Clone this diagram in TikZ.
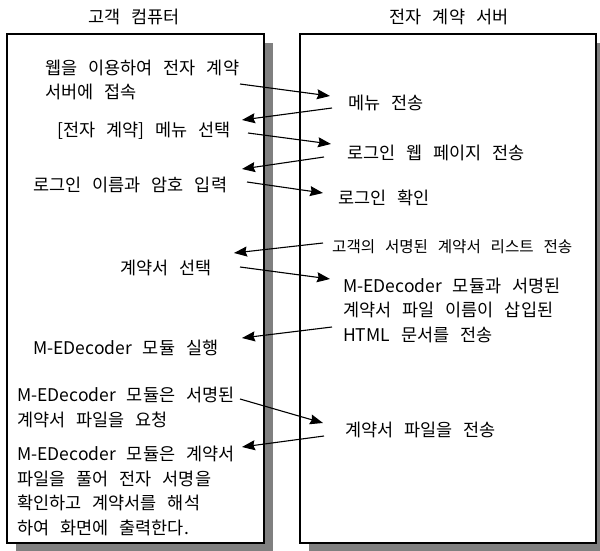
\documentclass[tikz,border=0pt]{standalone}
\usepackage{fontspec}
\setmainfont{Noto Sans CJK KR}[WordSpace=2.8]
\usepackage{tikz}
\usetikzlibrary{calc,arrows.meta}

\begin{document}
\begin{tikzpicture}[x=1pt,y=-1pt]
 \tikzstyle{arrow} = [-{Stealth[length=13pt,width=10pt,inset=1.5pt]},line width=1.1pt];
 \tikzstyle{box}   = [draw=black,fill=white,line width=1.4pt];
 \tikzstyle{shade} = [fill=black!50];
 \tikzstyle{txt}   = [anchor=west,inner sep=0pt,align=left,font=\fontsize{17.5}{24.5}\selectfont];
 \tikzstyle{small} = [font=\fontsize{15.6}{22}\selectfont];
 \tikzstyle{title} = [inner sep=0pt,font=\fontsize{17.5}{24.5}\selectfont];

 \useasboundingbox (0,0) rectangle (600,551);

 %% boxes with shadows
 \fill[shade] (16,43) rectangle (273,552);
 \fill[shade] (309,43) rectangle (605,552);
 \draw[box] (7,34) rectangle (264,543);
 \draw[box] (300,34) rectangle (596,543);

 \node[title, name=client] at (134,17) {고객 컴퓨터};
 \node[title, name=server] at (449,17) {전자 계약 서버};

 %% client side
 \node[txt, name=webN] at (45,80) {웹을 이용하여 전자 계약\\서버에 접속};
 \node[txt, name=menuSel] at (57,131) {[전자 계약] 메뉴 선택};
 \node[txt, name=loginIn] at (33,185) {로그인 이름과 암호 입력};
 \node[txt, name=selK] at (120,268) {계약서 선택};
 \node[txt, name=runM] at (33,348) {M-EDecoder 모듈 실행};
 \node[txt, name=reqF] at (17,407.5) {M-EDecoder 모듈은 서명된\\계약서 파일을 요청};
 \node[txt, name=showR] at (17,491) {M-EDecoder 모듈은 계약서\\파일을 풀어 전자 서명을\\확인하고 계약서를 해석\\하여 화면에 출력한다.};

 %% server side
 \node[txt, name=menuTx] at (348,103) {메뉴 전송};
 \node[txt, name=loginPg] at (347,153) {로그인 웹 페이지 전송};
 \node[txt, name=loginOk] at (338,198) {로그인 확인};
 \node[txt, small, name=listTx] at (332,247) {고객의 서명된 계약서 리스트 전송};
 \node[txt, name=htmlTx] at (343,310) {M-EDecoder 모듈과 서명된\\계약서 파일 이름이 삽입된\\HTML 문서를 전송};
 \node[txt, name=fileTx] at (345,430) {계약서 파일을 전송};

 %% message ends
 \coordinate (m1s) at (240,84);  \coordinate (m1e) at (330,96);
 \coordinate (m2s) at (332,108); \coordinate (m2e) at (242,120);
 \coordinate (m3s) at (248,133); \coordinate (m3e) at (331,144);
 \coordinate (m4s) at (324,157); \coordinate (m4e) at (242,169);
 \coordinate (m5s) at (247,182); \coordinate (m5e) at (323,193);
 \coordinate (m6s) at (323,243); \coordinate (m6e) at (234,253);
 \coordinate (m7s) at (240,267); \coordinate (m7e) at (330,279);
 \coordinate (m8s) at (332,327); \coordinate (m8e) at (242,338);
 \coordinate (m9s) at (240,399); \coordinate (m9e) at (323,423);
 \coordinate (m10s) at (324,436); \coordinate (m10e) at (242,447);

 \foreach \i in {1,...,10}
   \draw[arrow] (m\i s) -- (m\i e);

\end{tikzpicture}
\end{document}
